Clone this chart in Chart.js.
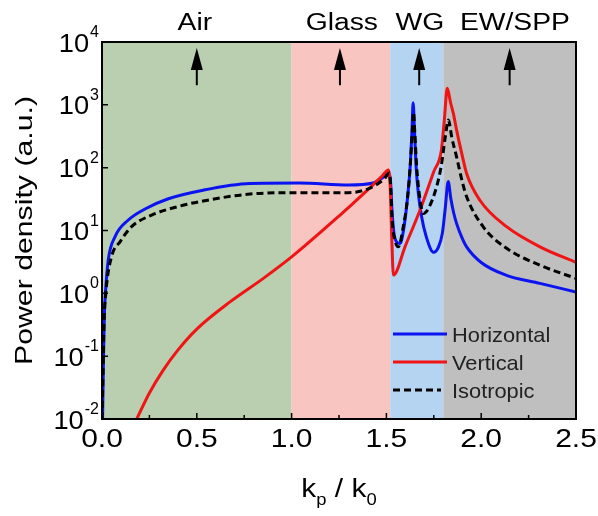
<!DOCTYPE html>
<html>
<head>
<meta charset="utf-8">
<script src="https://cdn.jsdelivr.net/npm/chart.js@4.4.1/dist/chart.umd.min.js"></script>
<style>
  html, body { margin: 0; padding: 0; background: #fff; }
  #wrap { width: 598px; height: 516px; }
</style>
</head>
<body>
<div id="wrap"><canvas id="powerChart" width="598" height="516"></canvas></div>
<script>
// data (x = kp/k0, y = power density, a.u.)
const hX = [0.003, 0.008, 0.013, 0.018, 0.033, 0.069, 0.139, 0.227, 0.35, 0.52, 0.78, 1.04, 1.3, 1.43, 1.50, 1.515, 1.522, 1.53, 1.54, 1.555, 1.572, 1.59, 1.61, 1.625, 1.635, 1.641, 1.648, 1.657, 1.668, 1.685, 1.71, 1.749, 1.775, 1.795, 1.81, 1.826, 1.84, 1.855, 1.87, 1.9, 1.923, 2.0, 2.13, 2.31, 2.5];
const hY = [0.01, 0.1, 0.5, 1, 3.4, 8, 14.7, 22, 32, 43, 56, 57, 53, 57, 76, 80, 60, 20, 9, 6.5, 6.2, 10, 30, 100, 400, 1080, 400, 100, 40, 17, 8, 4.5, 5.5, 9, 22, 60, 32, 19, 13, 7.5, 5.5, 3.1, 1.95, 1.44, 1.05];

const vX = [0.183, 0.25, 0.323, 0.4, 0.5, 0.675, 0.851, 1.0, 1.25, 1.4, 1.48, 1.51, 1.52, 1.528, 1.537, 1.6, 1.677, 1.75, 1.79, 1.805, 1.821, 1.838, 1.853, 1.87, 1.897, 1.923, 1.994, 2.134, 2.31, 2.5];
const vY = [0.01, 0.026, 0.06, 0.125, 0.27, 0.73, 1.73, 3.8, 17, 44, 75, 92, 50, 8, 1.95, 5.7, 21, 87, 190, 550, 1830, 1100, 730, 400, 170, 81, 30, 11.5, 5.5, 3.1];

const iX = [0.0, 0.005, 0.01, 0.02, 0.05, 0.095, 0.156, 0.262, 0.4, 0.52, 0.78, 1.04, 1.3, 1.41, 1.49, 1.515, 1.522, 1.53, 1.545, 1.563, 1.59, 1.61, 1.625, 1.636, 1.643, 1.65, 1.66, 1.675, 1.695, 1.72, 1.765, 1.79, 1.81, 1.827, 1.845, 1.87, 1.9, 1.923, 2.01, 2.134, 2.31, 2.5];
const iY = [0.01, 0.05, 0.3, 1, 3.8, 6.6, 11.5, 17.6, 24, 29, 38, 40, 40, 47, 67, 82, 55, 15, 7, 5.5, 12, 30, 100, 350, 760, 350, 100, 35, 18.7, 22, 50, 110, 300, 573, 300, 149, 60, 34.6, 11.5, 5.2, 2.8, 1.73];

// shaded regions and their labels
const regionEdges = [0, 1.0, 1.52, 1.8, 2.5];
const regionColors = ['#bacfb0', '#f8c5c0', '#b5d4f2', '#bfbfbf'];
const regionNames = ['Air', 'Glass', 'WG', 'EW/SPP'];
const regionLabelX = [0.49, 1.265, 1.677, 2.178];
const arrowX = [0.5, 1.255, 1.673, 2.15];
const arrowTip = 8000, arrowNeck = 3600, arrowTail = 2050;

// ticks
const xMajor = [0, 0.5, 1.0, 1.5, 2.0, 2.5];
const xMinor = [0.25, 0.75, 1.25, 1.75, 2.25];
const xTickLabels = ['0.0', '0.5', '1.0', '1.5', '2.0', '2.5'];
const yMajor = [1e-2, 1e-1, 1, 10, 100, 1e3, 1e4];
const yExp = ['-2', '-1', '0', '1', '2', '3', '4'];

const seriesNames = ['Horizontal', 'Vertical', 'Isotropic'];
const FONT = "'Liberation Sans', Arial, sans-serif";

const toPts = (xs, ys) => xs.map((x, i) => ({ x: x, y: ys[i] }));

// text squeezed/stretched horizontally to match the original lettering
function wideText(ctx, text, x, y, sx, align) {
  const w = ctx.measureText(text).width * sx;
  let x0 = x;
  if (align === 'center') x0 = x - w / 2;
  else if (align === 'right') x0 = x - w;
  ctx.save();
  ctx.translate(x0, y);
  ctx.scale(sx, 1);
  ctx.textAlign = 'left';
  ctx.fillText(text, 0, 0);
  ctx.restore();
  return w;
}

const decor = {
  id: 'decor',
  beforeDatasetsDraw(chart) {
    const { ctx, chartArea: a, scales: { x } } = chart;
    ctx.save();
    for (let i = 0; i < regionColors.length; i++) {
      const x0 = x.getPixelForValue(regionEdges[i]);
      const x1 = x.getPixelForValue(regionEdges[i + 1]);
      ctx.fillStyle = regionColors[i];
      ctx.fillRect(x0, a.top, x1 - x0, a.bottom - a.top);
    }
    ctx.restore();
  },
  afterDatasetsDraw(chart) {
    const { ctx, chartArea: a, scales: { x, y } } = chart;
    ctx.save();
    ctx.fillStyle = '#000';
    ctx.strokeStyle = '#000';
    ctx.textBaseline = 'alphabetic';

    // frame
    ctx.lineWidth = 2;
    ctx.strokeRect(a.left, a.top, a.right - a.left, a.bottom - a.top);

    // x ticks (inward)
    ctx.lineWidth = 1.5;
    ctx.beginPath();
    xMajor.forEach(v => { const px = x.getPixelForValue(v); ctx.moveTo(px, a.bottom); ctx.lineTo(px, a.bottom - 6); });
    xMinor.forEach(v => { const px = x.getPixelForValue(v); ctx.moveTo(px, a.bottom); ctx.lineTo(px, a.bottom - 4); });
    // y ticks (inward)
    yMajor.forEach(v => { const py = y.getPixelForValue(v); ctx.moveTo(a.left, py); ctx.lineTo(a.left + 6, py); });
    ctx.stroke();

    // x tick labels
    ctx.font = '25px ' + FONT;
    xMajor.forEach((v, i) => wideText(ctx, xTickLabels[i], x.getPixelForValue(v), a.bottom + 28, 1.2, 'center'));

    // y tick labels 10^n
    yMajor.forEach((v, i) => {
      const py = y.getPixelForValue(v);
      const right = a.left - 3;
      ctx.font = '16px ' + FONT;
      const wExp = ctx.measureText(yExp[i]).width;
      ctx.fillText(yExp[i], right - wExp, py - 5);
      ctx.font = '26px ' + FONT;
      wideText(ctx, '10', right - wExp - 1, py + 9.5, 1.05, 'right');
    });

    // x title: kp / k0
    const parts = [['k', 26, 0], ['p', 16, 8], [' / ', 26, 0], ['k', 26, 0], ['0', 16, 8]];
    let total = 0;
    parts.forEach(p => { ctx.font = p[1] + 'px ' + FONT; total += ctx.measureText(p[0]).width * 1.15; });
    let cx = (a.left + a.right) / 2 - total / 2;
    parts.forEach(p => {
      ctx.font = p[1] + 'px ' + FONT;
      cx += wideText(ctx, p[0], cx, 497 + p[2], 1.15, 'left');
    });

    // y title
    ctx.save();
    ctx.translate(32, (a.top + a.bottom) / 2);
    ctx.rotate(-Math.PI / 2);
    ctx.font = '24px ' + FONT;
    wideText(ctx, 'Power density (a.u.)', 0, 0, 1.26, 'center');
    ctx.restore();

    // region labels
    ctx.font = '23px ' + FONT;
    regionNames.forEach((t, i) => wideText(ctx, t, x.getPixelForValue(regionLabelX[i]), 30, 1.23, 'center'));

    // arrows
    arrowX.forEach(v => {
      const px = x.getPixelForValue(v);
      const yt = y.getPixelForValue(arrowTip), yn = y.getPixelForValue(arrowNeck), yb = y.getPixelForValue(arrowTail);
      ctx.lineWidth = 2;
      ctx.beginPath(); ctx.moveTo(px, yb); ctx.lineTo(px, yn); ctx.stroke();
      ctx.beginPath(); ctx.moveTo(px, yt); ctx.lineTo(px - 6, yn); ctx.lineTo(px + 6, yn); ctx.closePath(); ctx.fill();
    });

    // legend
    const legY = [334, 362, 390];
    chart.data.datasets.forEach((ds, i) => {
      ctx.strokeStyle = ds.borderColor;
      ctx.lineWidth = ds.borderWidth;
      ctx.setLineDash(ds.borderDash || []);
      ctx.beginPath(); ctx.moveTo(393, legY[i]); ctx.lineTo(i === 2 ? 441 : 447, legY[i]); ctx.stroke();
      ctx.setLineDash([]);
      ctx.fillStyle = '#222';
      ctx.font = '21px ' + FONT;
      wideText(ctx, ds.label, 452, legY[i] + 7.5, 1.04, 'left');
    });
    ctx.restore();
  }
};

new Chart(document.getElementById('powerChart'), {
  type: 'line',
  data: {
    datasets: [
      { label: seriesNames[0], data: toPts(hX, hY), borderColor: '#0a14f0', borderWidth: 3, order: 3 },
      { label: seriesNames[1], data: toPts(vX, vY), borderColor: '#f01414', borderWidth: 3, order: 2 },
      { label: seriesNames[2], data: toPts(iX, iY), borderColor: '#000000', borderWidth: 3, borderDash: [7, 4], order: 1 }
    ]
  },
  options: {
    responsive: false,
    animation: false,
    devicePixelRatio: 1,
    layout: { padding: { left: 0, top: 42, right: 22, bottom: 0 } },
    elements: {
      point: { radius: 0 },
      line: { cubicInterpolationMode: 'monotone', fill: false }
    },
    scales: {
      x: {
        type: 'linear', min: 0, max: 2.5,
        grid: { display: false }, border: { display: false },
        ticks: { display: false },
        afterFit: s => { s.height = 97; }
      },
      y: {
        type: 'logarithmic', min: 0.01, max: 10000,
        grid: { display: false }, border: { display: false },
        ticks: { display: false },
        afterFit: s => { s.width = 102; }
      }
    },
    plugins: { legend: { display: false }, tooltip: { enabled: false } }
  },
  plugins: [decor]
});
</script>
</body>
</html>
